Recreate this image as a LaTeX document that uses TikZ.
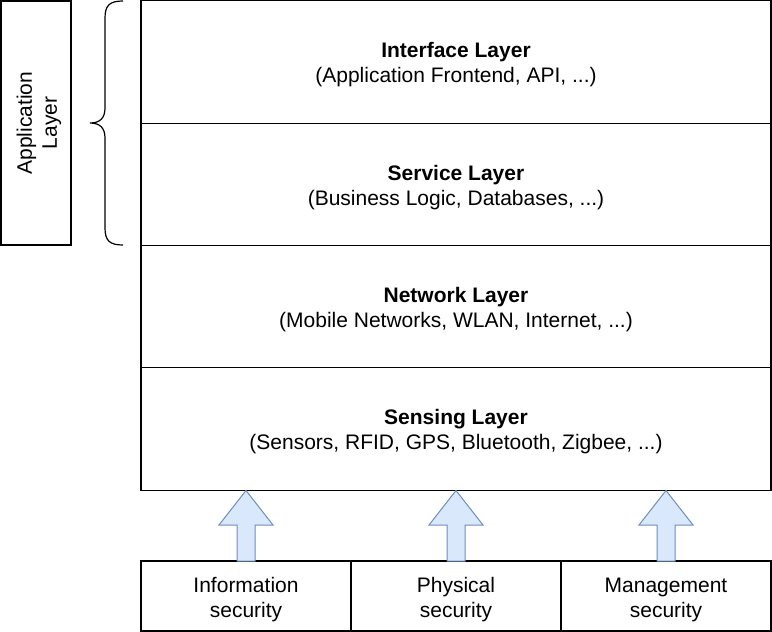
\documentclass[tikz,border=0pt]{standalone}
\usepackage{fontspec}
\setmainfont{Liberation Sans}
\definecolor{afill}{HTML}{DAE8FC}
\definecolor{adraw}{HTML}{6C8EBF}
\begin{document}
\begin{tikzpicture}[x=1pt,y=-1pt,
  layer/.style={draw, line width=1.2pt, minimum width=630pt, minimum height=122.5pt, inner sep=0pt},
  secbox/.style={draw, line width=1.2pt, minimum width=210pt, minimum height=70pt, inner sep=0pt},
  txt/.style={align=center, inner sep=0pt, font=\fontsize{21}{25}\selectfont},
  blockarrow/.style={draw=adraw, fill=afill, line width=1pt, line join=miter}
]
\useasboundingbox (0,0) rectangle (772,632);
\node[layer] (iface) at (456,62) {};
\node[layer] (serv) at (456,184.5) {};
\node[layer] (net) at (456,306.5) {};
\node[layer] (sens) at (456,429) {};
\node[txt] (ifacet) at ([yshift=-3pt]iface.center) {\textbf{Interface Layer}\\(Application Frontend, API, ...)};
\node[txt] (servt) at ([yshift=-3pt]serv.center) {\textbf{Service Layer}\\(Business Logic, Databases, ...)};
\node[txt] (nett) at ([yshift=-3pt]net.center) {\textbf{Network Layer}\\(Mobile Networks, WLAN, Internet, ...)};
\node[txt] (senst) at ([yshift=-3pt]sens.center) {\textbf{Sensing Layer}\\(Sensors, RFID, GPS, Bluetooth, Zigbee, ...)};
\node[draw, line width=1.2pt, minimum width=70pt, minimum height=244pt, inner sep=0pt] (app) at (36,123) {};
\node[txt, rotate=90] (applbl) at ([xshift=3pt]app.center) {Application\\Layer};
\node[secbox] (info) at (246,596) {};
\node[secbox] (phys) at (456,596) {};
\node[secbox] (mgmt) at (666,596) {};
\node[txt] (infot) at ([yshift=-3.5pt]info.center) {Information\\security};
\node[txt] (physt) at ([yshift=-3.5pt]phys.center) {Physical\\security};
\node[txt] (mgmtt) at ([yshift=-3.5pt]mgmt.center) {Management\\security};
\coordinate (bt) at (123,1);
\coordinate (bm) at (90,123);
\coordinate (bb) at (123,245);
\draw[line width=1.2pt] (bt) .. controls (110,1) and (105,5) .. (105,18) -- (105,108) .. controls (105,118) and (100,123) .. (bm)
  .. controls (100,123) and (105,128) .. (105,138) -- (105,228) .. controls (105,241) and (110,245) .. (bb);
\foreach \c/\n in {246/info,456/phys,666/mgmt}{
  \draw[blockarrow] (\c,490.5) -- (\c+27,525) -- (\c+9,525) -- (\c+9,561) -- (\c-9,561) -- (\c-9,525) -- (\c-27,525) -- cycle;
}
\end{tikzpicture}
\end{document}
